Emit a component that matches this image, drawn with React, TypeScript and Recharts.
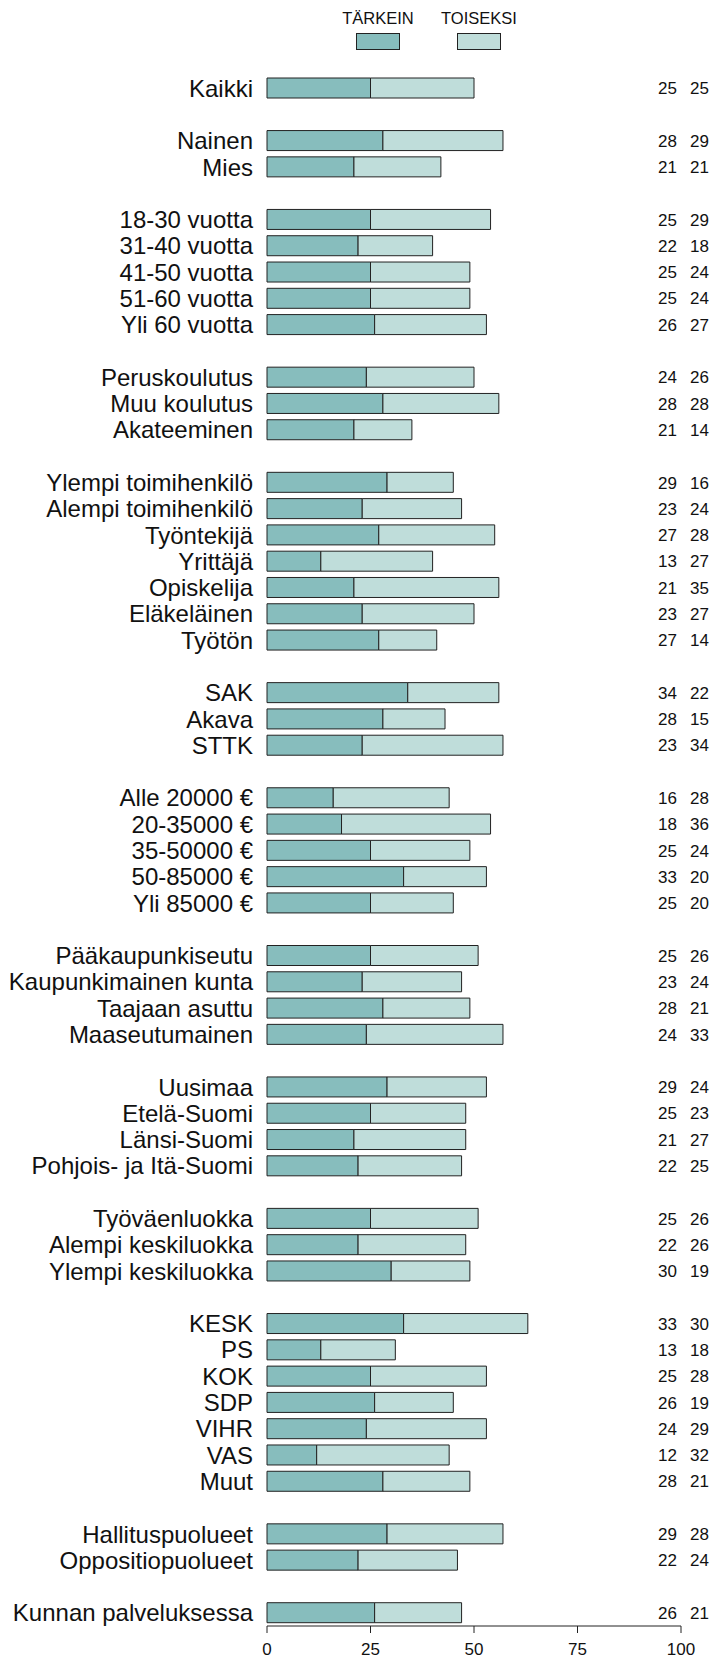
import { Bar, BarChart, XAxis, YAxis } from 'recharts';

const FONT = '"Liberation Sans", Arial, Helvetica, sans-serif';
const DARK = '#87BDBD';
const LIGHT = '#BFDDDA';
const EDGE = '#222222';

// empty label = spacer row between groups
const labels = [
  'Kaikki', '',
  'Nainen', 'Mies', '',
  '18-30 vuotta', '31-40 vuotta', '41-50 vuotta', '51-60 vuotta', 'Yli 60 vuotta', '',
  'Peruskoulutus', 'Muu koulutus', 'Akateeminen', '',
  'Ylempi toimihenkilö', 'Alempi toimihenkilö', 'Työntekijä', 'Yrittäjä', 'Opiskelija', 'Eläkeläinen', 'Työtön', '',
  'SAK', 'Akava', 'STTK', '',
  'Alle 20000 €', '20-35000 €', '35-50000 €', '50-85000 €', 'Yli 85000 €', '',
  'Pääkaupunkiseutu', 'Kaupunkimainen kunta', 'Taajaan asuttu', 'Maaseutumainen', '',
  'Uusimaa', 'Etelä-Suomi', 'Länsi-Suomi', 'Pohjois- ja Itä-Suomi', '',
  'Työväenluokka', 'Alempi keskiluokka', 'Ylempi keskiluokka', '',
  'KESK', 'PS', 'KOK', 'SDP', 'VIHR', 'VAS', 'Muut', '',
  'Hallituspuolueet', 'Oppositiopuolueet', '',
  'Kunnan palveluksessa',
];

const tarkein = [
  25, null,
  28, 21, null,
  25, 22, 25, 25, 26, null,
  24, 28, 21, null,
  29, 23, 27, 13, 21, 23, 27, null,
  34, 28, 23, null,
  16, 18, 25, 33, 25, null,
  25, 23, 28, 24, null,
  29, 25, 21, 22, null,
  25, 22, 30, null,
  33, 13, 25, 26, 24, 12, 28, null,
  29, 22, null,
  26,
];

const toiseksi = [
  25, null,
  29, 21, null,
  29, 18, 24, 24, 27, null,
  26, 28, 14, null,
  16, 24, 28, 27, 35, 27, 14, null,
  22, 15, 34, null,
  28, 36, 24, 20, 20, null,
  26, 24, 21, 33, null,
  24, 23, 27, 25, null,
  26, 26, 19, null,
  30, 18, 28, 19, 29, 32, 21, null,
  28, 24, null,
  21,
];

const xTicks = [0, 25, 50, 75, 100];

const rows = labels.map((label, i) => ({
  id: `r${i}`,
  label,
  tarkein: tarkein[i],
  toiseksi: toiseksi[i],
}));

const labelOf = (id: string) => labels[Number(id.slice(1))] ?? '';

interface TickProps {
  x?: number;
  y?: number;
  payload?: { value?: string };
}

const NumbersTick = ({ x = 0, y = 0, payload }: TickProps) => {
  const i = Number(String(payload?.value ?? '').slice(1));
  if (tarkein[i] == null) return <g />;
  return (
    <g fontFamily={FONT} fontSize={17} fill="#111">
      <text x={x - 4} y={y} dy="0.355em" textAnchor="end">{tarkein[i]}</text>
      <text x={x + 28} y={y} dy="0.355em" textAnchor="end">{toiseksi[i]}</text>
    </g>
  );
};

const TopLegend = () => (
  <svg width={712} height={60} style={{ position: 'absolute', left: 0, top: 0 }}>
    <g fontFamily={FONT} fontSize={16.5} fill="#111" textAnchor="middle">
      <text x={378} y={24}>TÄRKEIN</text>
      <text x={479} y={24}>TOISEKSI</text>
    </g>
    <rect x={356.5} y={33.5} width={43} height={16} fill={DARK} stroke={EDGE} />
    <rect x={457.5} y={33.5} width={43} height={16} fill={LIGHT} stroke={EDGE} />
  </svg>
);

export default function App() {
  return (
    <div style={{ position: 'absolute', left: 0, top: 0, width: 712, height: 1658, background: '#fff' }}>
      <BarChart
        width={712}
        height={1658}
        data={rows}
        layout="vertical"
        margin={{ top: 75, right: 0, bottom: 0, left: 0 }}
        barSize={20}
      >
        <XAxis
          type="number"
          domain={[0, 100]}
          ticks={xTicks}
          height={32}
          axisLine={{ stroke: EDGE }}
          tickLine={{ stroke: EDGE }}
          tickSize={7}
          tickMargin={10}
          tick={{ fill: '#111', fontSize: 17, fontFamily: FONT }}
        />
        <YAxis
          yAxisId="labels"
          type="category"
          dataKey="id"
          width={267}
          axisLine={false}
          tickLine={false}
          tickSize={0}
          tickMargin={14}
          interval={0}
          tickFormatter={labelOf}
          tick={{ fill: '#111', fontSize: 24, fontFamily: FONT }}
        />
        <YAxis
          yAxisId="nums"
          orientation="right"
          type="category"
          dataKey="id"
          width={31}
          axisLine={false}
          tickLine={false}
          tickSize={0}
          tickMargin={0}
          interval={0}
          tick={<NumbersTick />}
        />
        <Bar
          yAxisId="labels"
          dataKey="tarkein"
          stackId="a"
          fill={DARK}
          stroke={EDGE}
          strokeWidth={1}
          isAnimationActive={false}
        />
        <Bar
          yAxisId="labels"
          dataKey="toiseksi"
          stackId="a"
          fill={LIGHT}
          stroke={EDGE}
          strokeWidth={1}
          isAnimationActive={false}
        />
      </BarChart>
      <TopLegend />
    </div>
  );
}
